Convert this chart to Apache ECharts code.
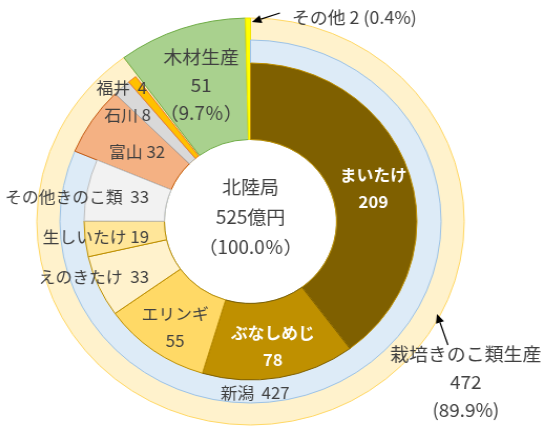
<!DOCTYPE html>
<html>
<head>
<meta charset="utf-8">
<script src="https://cdn.jsdelivr.net/npm/echarts@6/dist/echarts.min.js"></script>
<style>
  html, body { margin: 0; padding: 0; background: #fff; overflow: hidden; }
  #chart { width: 541px; height: 426px; }
</style>
</head>
<body>
<div id="chart"></div>
<script>
// data
const regionName = '北陸局';
const unitLabel = '億円';
const sectors = ['栽培きのこ類生産', '木材生産', 'その他'];
const sectorValues = [472, 51, 2];
const prefectures = ['新潟', '富山', '石川', '福井'];
const prefectureValues = [427, 32, 8, 4];
const kinoko = ['まいたけ', 'ぶなしめじ', 'エリンギ', 'えのきたけ', '生しいたけ', 'その他きのこ類'];
const kinokoValues = [209, 78, 55, 33, 19, 33];

// styles
const sectorColors = [['#FFF2CC', '#FFD966'], ['#A9D18E', '#70AD47'], ['#FFFF00', '#F2E500']];
const prefColors = [['#DDEBF7', '#9DC3E6'], ['#F4B183', '#C55A11'], ['#D9D9D9', '#AEAAAA'], ['#FFC000', '#ED7D31']];
const kinokoColors = [['#7F6000', '#BF9000'], ['#BF9000', '#7F6000'], ['#FFD966', '#BF9000'],
                      ['#FFF2CC', '#BF9000'], ['#FFE699', '#BF9000'], ['#F2F2F2', '#BFBFBF']];

const textColor = '#404040';
const font = '"Noto Sans CJK JP", "Noto Sans", sans-serif';
const cx = 250.5, cy = 221.5;
const r0 = 82, r1 = 158.5, r2 = 181.5, r3 = 203.5;
// the original picture is a little wider than tall
const stretchX = 1.05;

const total = sectorValues.reduce((a, b) => a + b, 0);
const pct = v => (v / total * 100).toFixed(1);

function blank(value) {
    return {
        value: value, name: '',
        itemStyle: { color: 'transparent', borderWidth: 0 },
        label: { show: false }
    };
}

function styled(value, name, colors, label) {
    return {
        value: value, name: name,
        itemStyle: { color: colors[0], borderColor: colors[1], borderWidth: 1 },
        label: label
    };
}

const outerData = sectors.map((s, i) => {
    let label;
    if (i === 0) {
        label = { formatter: s + '\n' + sectorValues[i] + '\n(' + pct(sectorValues[i]) + '%)', fontSize: 18, lineHeight: 28 };
    } else if (i === 1) {
        label = { formatter: s + '\n' + sectorValues[i] + '\n（' + pct(sectorValues[i]) + '％）', fontSize: 18, lineHeight: 28 };
    } else {
        label = { formatter: s + ' ' + sectorValues[i] + ' (' + pct(sectorValues[i]) + '%)', fontSize: 17 };
    }
    return styled(sectorValues[i], s, sectorColors[i], label);
});

const prefData = prefectures.map((p, i) => {
    const gap = (i === 0 || i === 3) ? '  ' : ' ';
    return styled(prefectureValues[i], p, prefColors[i], {
        formatter: p + gap + prefectureValues[i], fontSize: 16
    });
});
prefData.push(blank(total - prefectureValues.reduce((a, b) => a + b, 0)));

const kinokoData = kinoko.map((k, i) => {
    let label;
    if (i < 3) {
        label = { formatter: k + '\n' + kinokoValues[i], fontSize: 16, lineHeight: 27 };
        if (i < 2) { label.color = '#fff'; label.fontWeight = 'bold'; }
    } else {
        label = { formatter: k + (i === 4 ? ' ' : '  ') + kinokoValues[i], fontSize: 16 };
    }
    return styled(kinokoValues[i], k, kinokoColors[i], label);
});
kinokoData.push(blank(total - kinokoValues.reduce((a, b) => a + b, 0)));

function ring(radius, data, z, layout) {
    return {
        type: 'pie',
        center: [cx, cy],
        radius: radius,
        startAngle: 90,
        clockwise: true,
        z: z,
        silent: true,
        animation: false,
        emphasis: { disabled: true },
        label: { show: true, position: 'inside', color: textColor, fontFamily: font },
        labelLine: { show: false },
        labelLayout: layout,
        data: data
    };
}

function arrow(x1, y1, x2, y2) {
    const ang = Math.atan2(y2 - y1, x2 - x1);
    const len = 9, wid = 4;
    const bx = x2 - len * Math.cos(ang), by = y2 - len * Math.sin(ang);
    const px = -Math.sin(ang) * wid, py = Math.cos(ang) * wid;
    return [
        { type: 'line', shape: { x1: x1, y1: y1, x2: bx, y2: by }, style: { stroke: '#000', lineWidth: 1.2 }, z: 10 },
        { type: 'polygon', shape: { points: [[x2, y2], [bx + px, by + py], [bx - px, by - py]] }, style: { fill: '#000' }, z: 10 }
    ];
}

const chartDom = document.getElementById('chart');
chartDom.style.transform = 'scaleX(' + stretchX + ')';
chartDom.style.transformOrigin = cx + 'px 0';
const chart = echarts.init(chartDom, null, { renderer: 'canvas' });

const option = {
    backgroundColor: '#fff',
    animation: false,
    series: [
        ring([r0, r3], outerData, 1, function (p) {
            if (p.dataIndex === 0) return { x: cx + 205, y: cy + 161, align: 'center', verticalAlign: 'middle' };
            if (p.dataIndex === 1) return { dy: 2 };
            if (p.dataIndex === 2) return { x: cx + 39.5, y: 18, align: 'left', verticalAlign: 'middle' };
        }),
        ring([r0, r2], prefData, 2, function (p) {
            if (p.dataIndex === 0) return { x: cx + 4.3, y: cy + 171.5, align: 'center', verticalAlign: 'middle' };
            if (p.dataIndex === 1) return { dx: 4, dy: 5 };
            if (p.dataIndex === 2) return { dx: -26, dy: -7 };
            if (p.dataIndex === 3) return { dx: -39, dy: -28 };
        }),
        ring([r0, r1], kinokoData, 3, function (p) {
            if (p.dataIndex === 0) return { dy: 6 };
            if (p.dataIndex === 1) return { dy: 4 };
            if (p.dataIndex === 2) return { dy: 6 };
            if (p.dataIndex >= 3 && p.dataIndex <= 5) {
                return { x: cx - 96.7, align: 'right', dy: p.dataIndex === 3 ? 5 : (p.dataIndex === 4 ? 2 : 0) };
            }
        })
    ],
    graphic: [
        {
            type: 'text', x: cx, y: cy - 4.5, z: 10,
            style: {
                text: regionName + '\n' + total + unitLabel + '\n（' + (100).toFixed(1) + '％）',
                align: 'center', verticalAlign: 'middle',
                fontSize: 18, lineHeight: 30, fontFamily: font, fill: textColor
            }
        }
    ].concat(arrow(cx + 28, cy - 208.5, cx + 1.4, cy - 199.5))
     .concat(arrow(cx + 188, cy + 123.5, cx + 177.6, cy + 92.5))
};

chart.setOption(option);
</script>
</body>
</html>
